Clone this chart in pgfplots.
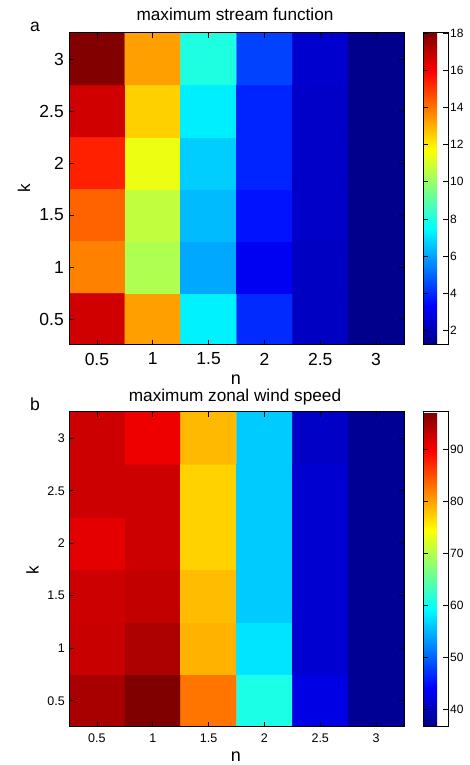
\documentclass[border=0pt]{standalone}
\usepackage{fontspec}
\setmainfont{Liberation Sans}
\usepackage{pgfplots}
\pgfplotsset{compat=1.18}
\usepackage{pgfplotstable}

\pgfplotstableread{
x y c
0.5 0.5 16.7
1 0.5 13.3
1.5 0.5 7.3
2 0.5 4.0
2.5 0.5 2.3
3 0.5 1.4
0.5 1 13.8
1 1 10.4
1.5 1 6.1
2 1 3.1
2.5 1 2.3
3 1 1.4
0.5 1.5 14.3
1 1.5 10.7
1.5 1.5 6.4
2 1.5 3.6
2.5 1.5 2.4
3 1.5 1.4
0.5 2 15.4
1 2 11.4
1.5 2 6.7
2 2 3.9
2.5 2 2.4
3 2 1.4
0.5 2.5 16.7
1 2.5 12.5
1.5 2.5 7.25
2 2.5 3.9
2.5 2.5 2.4
3 2.5 1.4
0.5 3 18.0
1 3 13.3
1.5 3 8.0
2 3 4.4
2.5 3 2.5
3 3 1.4
}\tablea

\pgfplotstableread{
x y c
0.5 0.5 94.7
1 0.5 97.1
1.5 0.5 82.6
2 0.5 60.9
2.5 0.5 42.7
3 0.5 37.9
0.5 1 92.8
1 1 94.4
1.5 1 79.0
2 1 57.8
2.5 1 41.5
3 1 37.9
0.5 1.5 92.6
1 1.5 93.2
1.5 1.5 78.4
2 1.5 56.3
2.5 1.5 41.5
3 1.5 37.9
0.5 2 91.1
1 2 92.6
1.5 2 77.1
2 2 56.3
2.5 2 41.5
3 2 37.9
0.5 2.5 92.6
1 2.5 92.6
1.5 2.5 77.1
2 2.5 56.3
2.5 2.5 41.5
3 2.5 37.9
0.5 3 92.6
1 3 90.5
1.5 3 78.6
2 3 56.3
2.5 3 40.9
3 3 37.9
}\tableb

\pgfplotsset{
  heat/.style={
    scale only axis,
    xmin=0.25, xmax=3.25, ymin=0.25, ymax=3.25,
    xtick={0.5,1,1.5,2,2.5,3}, ytick={0.5,1,1.5,2,2.5,3},
    /pgf/number format/assume math mode=true,
    tick align=inside,
    major tick length=5pt,
    axis line style={line width=1pt},
    major tick style={line width=0.8pt, black},
    axis on top,
    colormap/jet,
    colorbar,
    colorbar shift/.style={xshift=19pt},
    colorbar style={
      at={(parent axis.north east)}, anchor=north west,
      width=25pt,
      /pgf/number format/assume math mode=true,
      tick align=inside,
      major tick length=5pt,
      axis line style={line width=1pt},
      major tick style={line width=0.8pt, black},
      ytick pos=both, yticklabel pos=right,
      yticklabel style={font=\fontsize{12}{14}\selectfont, inner sep=0pt, anchor=west, xshift=2pt},
    },
  },
}

\begin{document}
\begin{tikzpicture}
\useasboundingbox (0,0) rectangle (470pt,765pt);
\begin{axis}[heat,
  at={(69pt,420pt)}, anchor=south west, width=335pt, height=312pt,
  point meta min=1.2, point meta max=18.03,
  xticklabel style={font=\fontsize{17.5}{20}\selectfont, inner sep=0pt, anchor=north, yshift=-7.7pt},
  yticklabel style={font=\fontsize{17.5}{20}\selectfont, inner sep=0pt, anchor=east, xshift=-5pt},
  colorbar style={ytick={2,4,6,8,10,12,14,16,18}},
]
\addplot[matrix plot*, mesh/cols=6, point meta=explicit] table[x=x, y=y, meta=c] {\tablea};
\end{axis}
\begin{axis}[heat,
  at={(69pt,38pt)}, anchor=south west, width=335pt, height=315pt,
  point meta min=36.7, point meta max=97.1,
  xticklabel style={font=\fontsize{12.5}{15}\selectfont, inner sep=0pt, anchor=north, yshift=-6.3pt},
  yticklabel style={font=\fontsize{12.5}{15}\selectfont, inner sep=0pt, anchor=east, xshift=-4pt},
  colorbar style={ytick={40,50,60,70,80,90}},
]
\addplot[matrix plot*, mesh/cols=6, point meta=explicit] table[x=x, y=y, meta=c] {\tableb};
\end{axis}
\node[anchor=base, font=\fontsize{17.2}{20}\selectfont] at (235pt,744.3pt) {maximum stream function};
\node[anchor=base, font=\fontsize{17.2}{20}\selectfont] at (235pt,363pt) {maximum zonal wind speed};
\node[anchor=base, font=\fontsize{17.5}{20}\selectfont] at (35pt,733pt) {a};
\node[anchor=base, font=\fontsize{17.5}{20}\selectfont] at (35pt,354.3pt) {b};
\node[anchor=base, font=\fontsize{18}{20}\selectfont] at (236pt,380.5pt) {n};
\node[anchor=base, font=\fontsize{18}{20}\selectfont] at (236pt,3.3pt) {n};
\node[rotate=90, inner sep=0pt, font=\fontsize{17}{20}\selectfont] at (24pt,577pt) {k};
\node[rotate=90, inner sep=0pt, font=\fontsize{17}{20}\selectfont] at (32.5pt,195pt) {k};
\end{tikzpicture}
\end{document}
